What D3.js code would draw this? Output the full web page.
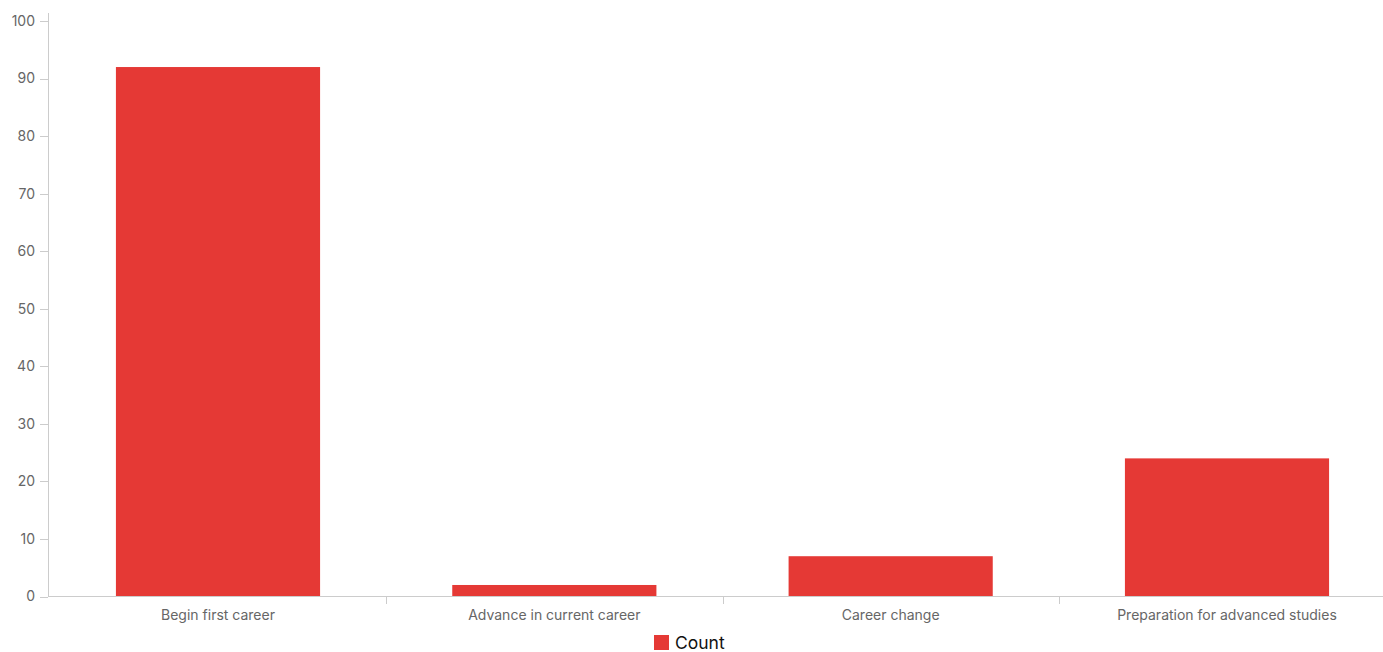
<!DOCTYPE html>
<html><head><meta charset="utf-8">
<script src="https://cdn.jsdelivr.net/npm/d3@7"></script>
<style>body{margin:0;background:#fff;} svg{display:block;font-family:"Inter","Roboto",sans-serif;}</style>
</head><body>
<script>
const categories = ["Begin first career","Advance in current career","Career change","Preparation for advanced studies"];
const counts = [92, 2, 7, 24];
const yTicks = [0,10,20,30,40,50,60,70,80,90,100];
const seriesName = "Count";

const W = 1383, H = 652;
const svg = d3.select("body").append("svg").attr("width", W).attr("height", H);
const x = d3.scaleBand().domain(categories).range([50, 1395]).paddingInner(0.393).paddingOuter(0.196);
const y = d3.scaleLinear().domain([0, 100]).range([596.5, 21]);
const axisColor = "#cccccc";

// y axis
const gy = svg.append("g");
gy.append("line").attr("x1", 48.5).attr("x2", 48.5).attr("y1", 13).attr("y2", 596.5).attr("stroke", axisColor);
gy.selectAll("line.t").data(yTicks).join("line").attr("class","t")
  .attr("x1", 40).attr("x2", 48).attr("y1", d => Math.round(y(d))+0.5).attr("y2", d => Math.round(y(d))+0.5).attr("stroke", axisColor);
gy.selectAll("text").data(yTicks).join("text")
  .attr("x", 35).attr("y", d => y(d)).attr("dy", "0.35em").attr("text-anchor","end")
  .attr("font-size", 14).attr("fill", "#666").text(d => d);

// bars
svg.selectAll("rect.bar").data(categories).join("rect").attr("class","bar")
  .attr("x", d => x(d)).attr("width", x.bandwidth())
  .attr("y", (d,i) => y(counts[i])).attr("height", (d,i) => y(0) - y(counts[i]))
  .attr("fill", "#e53935");

// x axis
const gx = svg.append("g");
gx.append("line").attr("x1", 48).attr("x2", W).attr("y1", 596.5).attr("y2", 596.5).attr("stroke", axisColor);
const step = x.step();
const bounds = categories.slice(1).map(c => x(c) - (step - x.bandwidth())/2);
gx.selectAll("line.t").data(bounds).join("line").attr("class","t")
  .attr("x1", d => Math.round(d)+0.5).attr("x2", d => Math.round(d)+0.5).attr("y1", 597).attr("y2", 604).attr("stroke", axisColor);
gx.selectAll("text").data(categories).join("text")
  .attr("x", d => x(d) + x.bandwidth()/2).attr("y", 620).attr("text-anchor","middle")
  .attr("font-size", 14).attr("fill", "#666").text(d => d);

// legend
const lg = svg.append("g");
lg.append("rect").attr("x", 654).attr("y", 635).attr("width", 15).attr("height", 15).attr("fill", "#e53935");
lg.append("text").attr("x", 675).attr("y", 649).attr("font-size", 17.5).attr("fill", "#111").text(seriesName);
</script>
</body></html>
